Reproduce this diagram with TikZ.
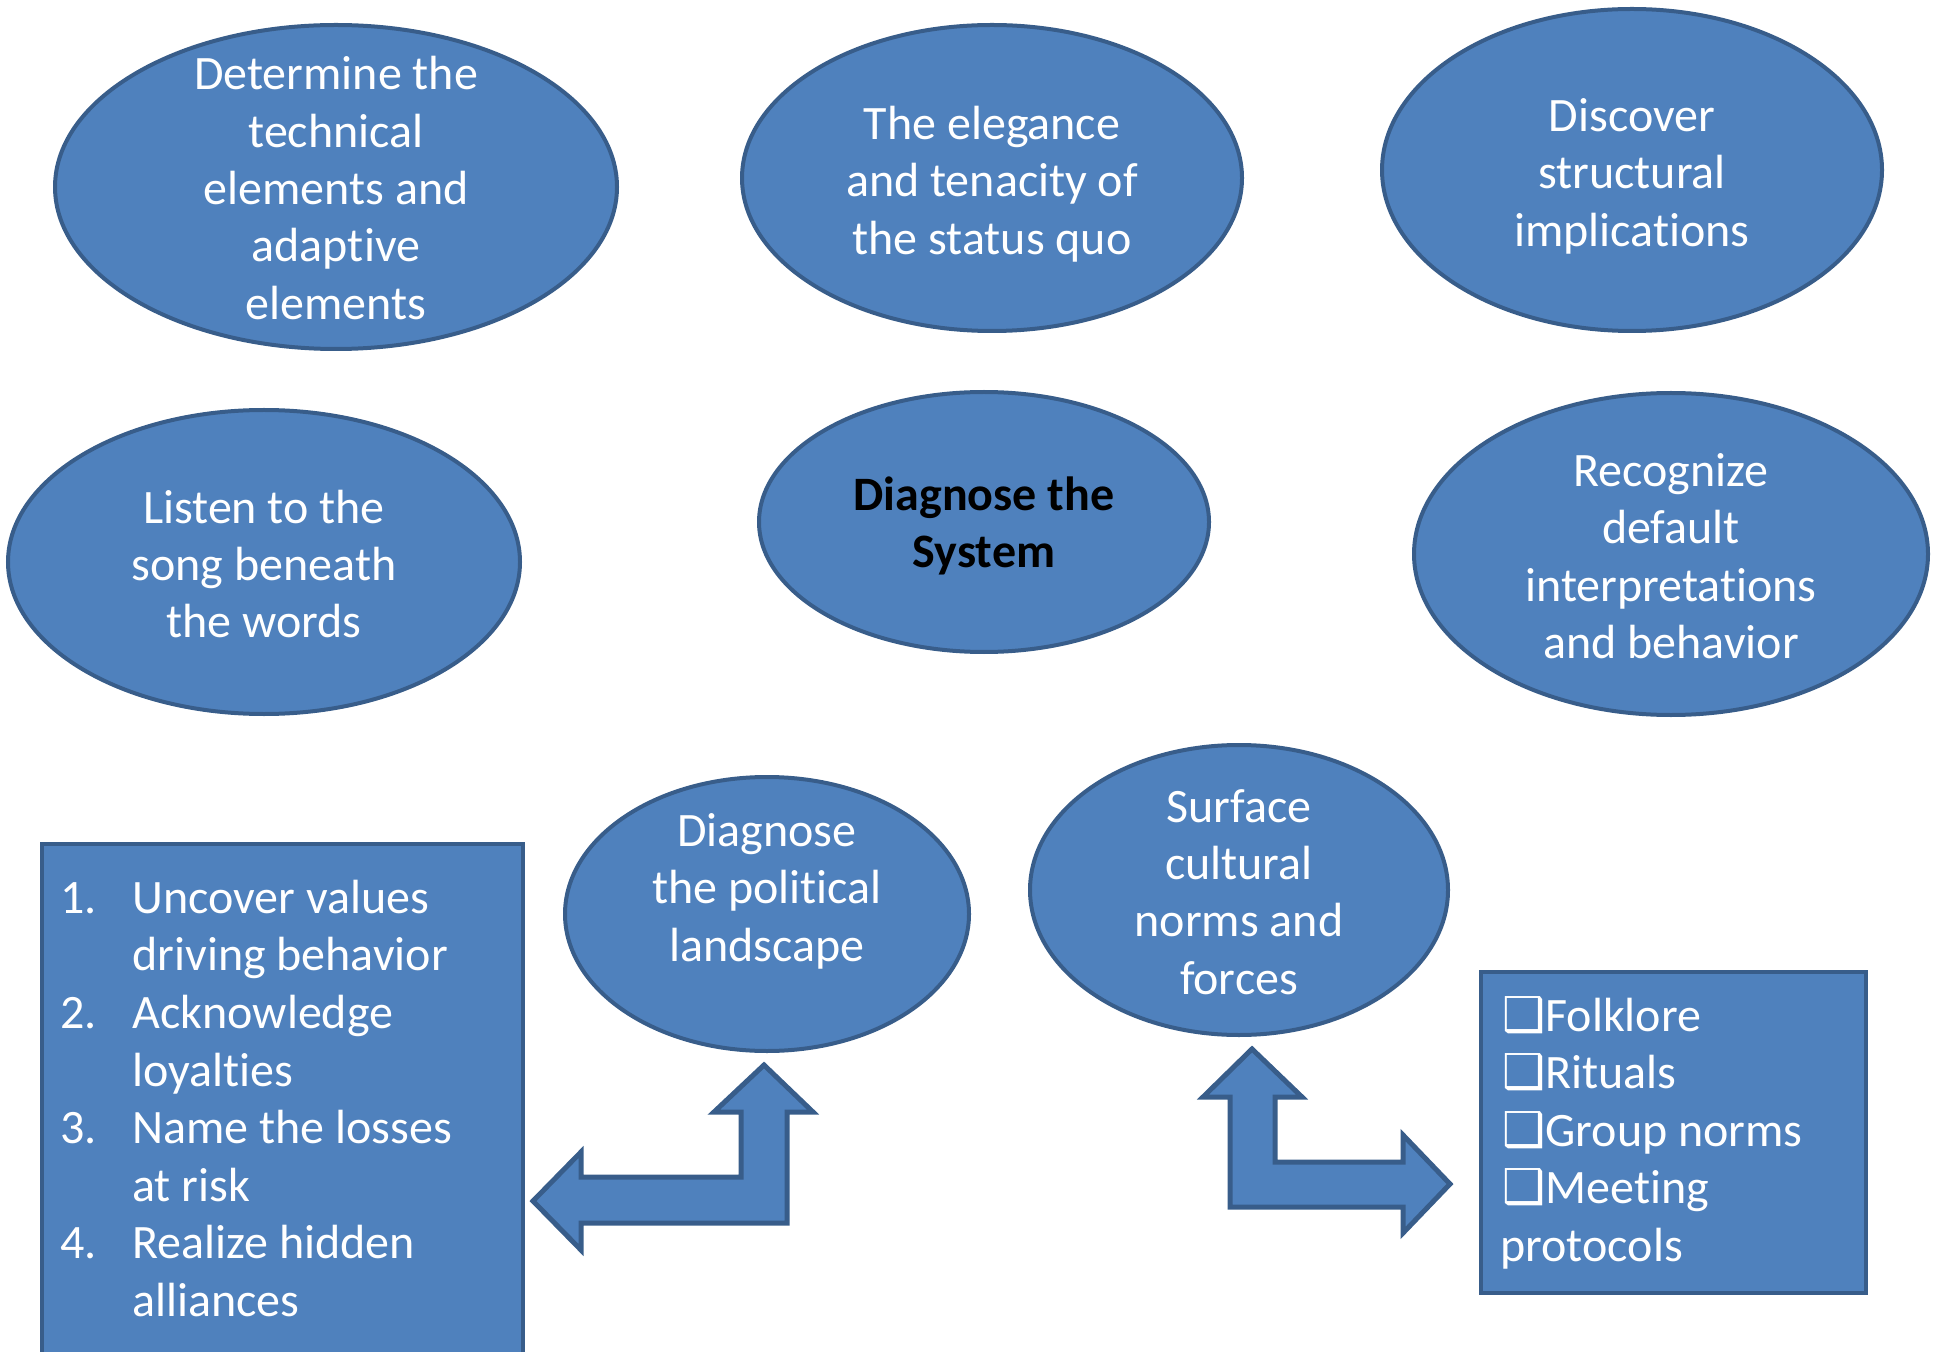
\documentclass[tikz,border=0pt]{standalone}
\usepackage{fontspec}
\setmainfont{Carlito}[Ligatures=NoCommon]
\newfontfamily\dejavu{DejaVu Sans}
\usetikzlibrary{shapes.geometric}
\definecolor{fillb}{HTML}{4F81BD}
\definecolor{edgeb}{HTML}{385D8A}
\begin{document}
\begin{tikzpicture}[x=0.5pt,y=-0.5pt,
  ell/.style={ellipse, draw=edgeb, fill=fillb, line width=2pt, inner sep=0pt},
  etxt/.style={align=center, text=white, font=\fontsize{24}{28.7}\selectfont, inner sep=0pt},
  btxt/.style={align=center, text=black, font=\fontsize{24}{28.7}\selectfont\bfseries, inner sep=0pt},
  ltxt/.style={anchor=base west, text=white, font=\fontsize{24}{28}\selectfont, inner sep=0pt},
  boxst/.style={draw=edgeb, fill=fillb, line width=2pt},
  arrst/.style={draw=edgeb, fill=fillb, line width=2.5pt, line join=miter},
]
\useasboundingbox (0,0) rectangle (1937,1352);
\clip (0,0) rectangle (1937,1352);

% ellipses
\node[ell, minimum width=281pt, minimum height=162pt] (e1) at (336,187) {};
\node[ell, minimum width=250pt, minimum height=153pt] (e2) at (992,178) {};
\node[ell, minimum width=250pt, minimum height=161pt] (e3) at (1632,170) {};
\node[ell, minimum width=256pt, minimum height=152pt] (e4) at (264,562) {};
\node[ell, minimum width=225pt, minimum height=130pt] (e5) at (984,522) {};
\node[ell, minimum width=257pt, minimum height=161pt] (e6) at (1671,554) {};
\node[ell, minimum width=202pt, minimum height=137pt] (e7) at (767,914) {};
\node[ell, minimum width=209pt, minimum height=145pt] (e8) at (1239,890) {};

\node[etxt] (t1) at (336,188) {Determine the\\technical\\elements and\\adaptive\\elements};
\node[etxt] (t2) at (992,184) {The elegance\\and tenacity of\\the status quo};
\node[etxt] (t3) at (1632,176) {Discover\\structural\\implications};
\node[etxt] (t4) at (264,564) {Listen to the\\song beneath\\the words};
\node[btxt] (t5) at (984,526) {Diagnose the\\System};
\node[etxt] (t6) at (1671,556) {Recognize\\default\\interpretations\\and behavior};
\node[etxt] (t7) at (767,891) {Diagnose\\the political\\landscape};
\node[etxt] (t8) at (1239,892) {Surface\\cultural\\norms and\\forces};

% left box
\node[boxst, anchor=north west, minimum width=240.5pt, minimum height=280pt, inner sep=0pt] (lbox) at (40,842) {};
\node[ltxt] (n1) at (60,913) {1.};
\node[ltxt] (l1a) at (132,913) {Uncover values};
\node[ltxt] (l1b) at (132,970.5) {driving behavior};
\node[ltxt] (n2) at (60,1028) {2.};
\node[ltxt] (l2a) at (132,1028) {Acknowledge};
\node[ltxt] (l2b) at (132,1086) {loyalties};
\node[ltxt] (n3) at (60,1143.5) {3.};
\node[ltxt] (l3a) at (132,1143.5) {Name the losses};
\node[ltxt] (l3b) at (132,1201) {at risk};
\node[ltxt] (n4) at (60,1258.5) {4.};
\node[ltxt] (l4a) at (132,1258.5) {Realize hidden};
\node[ltxt] (l4b) at (132,1316) {alliances};

% right box
\node[boxst, anchor=north west, minimum width=192.5pt, minimum height=160.5pt, inner sep=0pt] (rbox) at (1479,970) {};
\node[ltxt] (r1) at (1502,1031) {{\dejavu ❑}Folklore};
\node[ltxt] (r2) at (1502,1088.5) {{\dejavu ❑}Rituals};
\node[ltxt] (r3) at (1502,1146) {{\dejavu ❑}Group norms};
\node[ltxt] (r4) at (1502,1203.5) {{\dejavu ❑}Meeting};
\node[ltxt] (r5) at (1500,1261) {protocols};

% bent arrows
\draw[arrst] (533,1201) -- (581,1152) -- (581,1177) -- (741,1177) -- (741,1112) -- (714,1112) -- (764,1065) -- (813,1112) -- (787,1112) -- (787,1223) -- (581,1223) -- (581,1250) -- cycle;
\draw[arrst] (1252,1049) -- (1302,1097) -- (1275,1097) -- (1275,1162) -- (1403,1162) -- (1403,1135) -- (1450,1184) -- (1403,1233) -- (1403,1207) -- (1230,1207) -- (1230,1097) -- (1203,1097) -- cycle;
\end{tikzpicture}
\end{document}
